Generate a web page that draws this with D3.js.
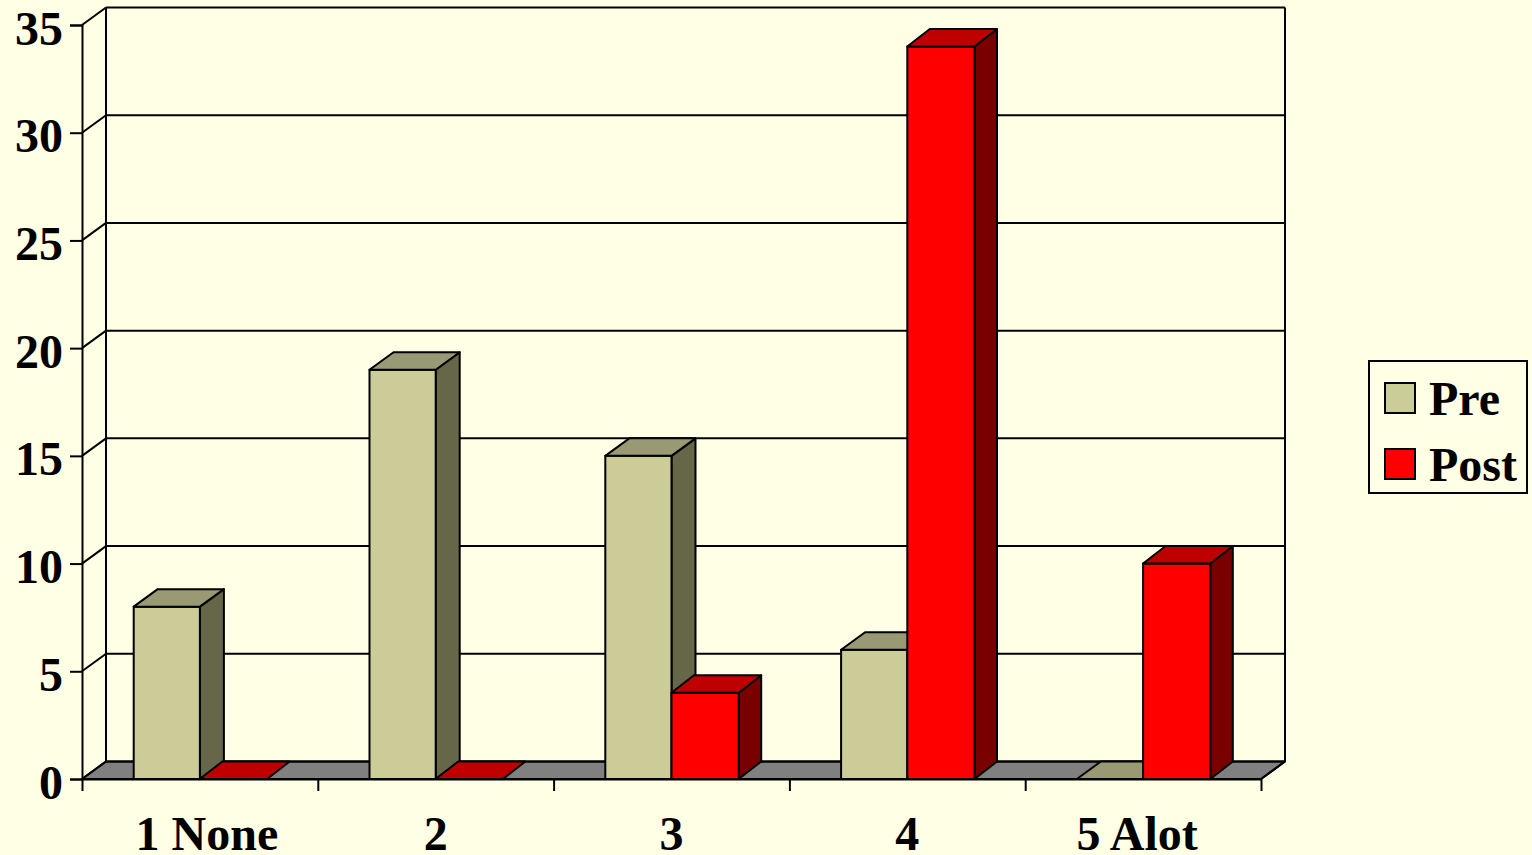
<!DOCTYPE html>
<html>
<head>
<meta charset="utf-8">
<script src="https://cdn.jsdelivr.net/npm/d3@7/dist/d3.min.js"></script>
<style>
html,body{margin:0;padding:0;background:#FFFFE5;overflow:hidden}
svg{display:block}
text{font-family:"Liberation Serif",serif;font-weight:bold;font-size:48px;fill:#000}
</style>
</head>
<body>
<script>
const categories = ["1 None", "2", "3", "4", "5 Alot"];
const seriesNames = ["Pre", "Post"];
const preValues = [8, 19, 15, 6, 0];
const postValues = [0, 0, 4, 34, 10];
const yTicks = [0, 5, 10, 15, 20, 25, 30, 35];

const colors = {
  Pre: {front: "#CCCC99", top: "#999973", side: "#666648"},
  Post: {front: "#FF0000", top: "#BF0000", side: "#7A0000"}
};
const W = 1532, H = 855;
const plotLeft = 82, plotRight = 1261, plotBottom = 779, plotTop = 25;
const dx = 24, dy = 17.5;
const barDx = {Pre: 24, Post: 22.5};
const barInset = {Pre: 1, Post: 0};
const labelNudge = [7, 0, 0, 0, -6];

const svg = d3.select("body").append("svg").attr("width", W).attr("height", H);
svg.append("rect").attr("width", W).attr("height", H).attr("fill", "#FFFFE5");

const y = d3.scaleLinear().domain([0, 35]).range([plotBottom, plotTop]);
const x = d3.scaleBand().domain(categories).range([plotLeft, plotRight]).paddingInner(0.43).paddingOuter(0.215);
const xSub = d3.scaleBand().domain(seriesNames).range([0, x.bandwidth()]);
const xEdge = d3.scaleLinear().domain([0, categories.length]).range([plotLeft, plotRight]);

const line = d3.line();
const poly = pts => line(pts) + "Z";

// floor
svg.append("path")
  .attr("d", poly([[plotLeft, plotBottom], [plotLeft + dx, plotBottom - dy], [plotRight + dx, plotBottom - dy], [plotRight, plotBottom]]))
  .attr("fill", "#808080").attr("stroke", "#000").attr("stroke-width", 2).attr("stroke-linejoin", "round");

// back wall gridlines and side wall diagonals
const wall = svg.append("g").attr("fill", "none").attr("stroke", "#000");
wall.selectAll(".grid").data(yTicks).join("line").attr("class", "grid")
  .attr("x1", plotLeft + dx).attr("x2", plotRight + dx)
  .attr("y1", d => y(d) - dy).attr("y2", d => y(d) - dy)
  .attr("stroke-width", 2);
wall.selectAll(".diag").data(yTicks).join("line").attr("class", "diag")
  .attr("x1", plotLeft).attr("x2", plotLeft + dx)
  .attr("y1", d => y(d)).attr("y2", d => y(d) - dy)
  .attr("stroke-width", 2);
[plotLeft + dx, plotRight + dx].forEach(xx => wall.append("line")
  .attr("x1", xx).attr("x2", xx).attr("y1", y(35) - dy).attr("y2", y(0) - dy).attr("stroke-width", 2));
wall.append("line").attr("x1", plotRight).attr("x2", plotRight + dx).attr("y1", plotBottom).attr("y2", plotBottom - dy).attr("stroke-width", 2);

// bars
const records = [];
categories.forEach((c, i) => {
  records.push({c, s: "Pre", v: preValues[i]});
  records.push({c, s: "Post", v: postValues[i]});
});
const bars = svg.append("g").attr("stroke", "#000").attr("stroke-width", 2).attr("stroke-linejoin", "round");
records.forEach(r => {
  const x0 = x(r.c) + xSub(r.s) + barInset[r.s], x1 = x(r.c) + xSub(r.s) + xSub.bandwidth();
  const yt = y(r.v), col = colors[r.s], bdx = barDx[r.s];
  const g = bars.append("g");
  if (r.v > 0) {
    g.append("path").attr("fill", col.side)
      .attr("d", poly([[x1, yt], [x1 + bdx, yt - dy], [x1 + bdx, plotBottom - dy], [x1, plotBottom]]));
    g.append("path").attr("fill", col.front)
      .attr("d", poly([[x0, yt], [x1, yt], [x1, plotBottom], [x0, plotBottom]]));
  }
  g.append("path").attr("fill", col.top)
    .attr("d", poly([[x0, yt], [x0 + bdx, yt - dy], [x1 + bdx, yt - dy], [x1, yt]]));
});

// axes
const yAxis = d3.axisLeft(y).tickValues(yTicks).tickSizeOuter(0).tickSize(12).tickPadding(7);
const gy = svg.append("g").attr("transform", `translate(${plotLeft},0)`).call(yAxis);
gy.select(".domain").attr("stroke", "#000").attr("stroke-width", 2);
gy.selectAll(".tick line").attr("stroke", "#000").attr("stroke-width", 2);
gy.selectAll(".tick text").attr("dy", "19px").style("font-family", '"Liberation Serif",serif').style("font-size", "48px").style("font-weight", "bold");

const xAxisLine = d3.axisBottom(xEdge).tickValues(d3.range(categories.length + 1)).tickSize(12).tickSizeOuter(0).tickFormat("");
const gx = svg.append("g").attr("transform", `translate(0,${plotBottom})`).call(xAxisLine);
gx.select(".domain").attr("stroke", "#000").attr("stroke-width", 2);
gx.selectAll(".tick line").attr("stroke", "#000").attr("stroke-width", 2);

const xLabels = d3.axisBottom(x).tickSize(0).tickPadding(0);
const gl = svg.append("g").attr("transform", `translate(0,${plotBottom})`).call(xLabels);
gl.select(".domain").remove();
gl.selectAll(".tick text")
  .attr("y", 71).attr("dy", 0)
  .attr("x", (d, i) => labelNudge[i])
  .style("font-family", '"Liberation Serif",serif').style("font-size", "48px").style("font-weight", "bold");

// legend
const legend = svg.append("g");
legend.append("rect").attr("x", 1369).attr("y", 361).attr("width", 158).attr("height", 132)
  .attr("fill", "#FFFFE5").attr("stroke", "#000").attr("stroke-width", 2);
seriesNames.forEach((s, i) => {
  legend.append("rect").attr("x", 1385).attr("y", 383 + i * 66).attr("width", 30).attr("height", 30)
    .attr("fill", colors[s].front).attr("stroke", "#000").attr("stroke-width", 2);
  legend.append("text").attr("x", 1429).attr("y", 415 + i * 66).text(s);
});
</script>
</body>
</html>
